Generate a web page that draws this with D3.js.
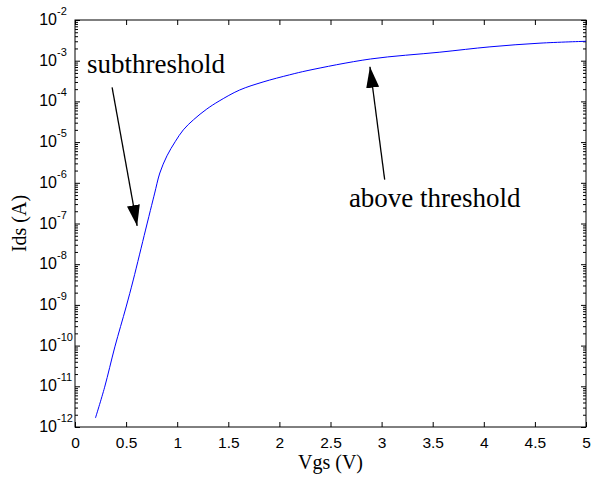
<!DOCTYPE html>
<html>
<head>
<meta charset="utf-8">
<script src="https://cdn.jsdelivr.net/npm/d3@7"></script>
<style>
  body { margin: 0; background: #fff; }
  .tick line { stroke: #000; }
  .tick text { font-family: "Liberation Sans", Arial, sans-serif; fill: #000; }
</style>
</head>
<body>
<svg id="viz-container" width="595" height="479"></svg>
<script>
// Vgs (V) and Ids (A)
var vgs = [0.2, 0.29, 0.39, 0.5, 0.57, 0.69, 0.75, 0.78, 0.83, 0.9, 0.98, 1.06, 1.16, 1.29, 1.41, 1.61, 1.84, 2.1, 2.28, 2.89, 3.57, 4.06, 4.55, 5.0];
var ids = [1.66e-12, 9.5e-12, 9.3e-11, 8.9e-10, 4.1e-9, 6.9e-8, 2.8e-7, 5.6e-7, 1.74e-6, 4.6e-6, 1.02e-5, 2.0e-5, 3.55e-5, 6.5e-5, 1.02e-4, 1.9e-4, 3.0e-4, 4.5e-4, 5.75e-4, 1.1e-3, 1.62e-3, 2.19e-3, 2.7e-3, 3.0e-3];

var xTicks = [0, 0.5, 1, 1.5, 2, 2.5, 3, 3.5, 4, 4.5, 5];
var yExponents = [-12, -11, -10, -9, -8, -7, -6, -5, -4, -3, -2];

// annotations: label, text anchor point, arrow tail, arrow tip (data coords)
var notes = [
  {label: "subthreshold",    tx: 0.117, ty: 5.0e-4, x1: 0.363, y1: 2.2e-4, x2: 0.608, y2: 8.7e-8},
  {label: "above threshold", tx: 2.68,  ty: 2.6e-7, x1: 3.03,  y1: 1.2e-6, x2: 2.886, y2: 7.1e-4}
];

var margin = {left: 75, right: 9, top: 20, bottom: 52}
  , width = 595
  , height = 479;

var svg = d3.select("#viz-container");

var x = d3.scaleLinear()
  .domain([0, 5])
  .range([margin.left, width - margin.right]);

var y = d3.scaleLog()
  .domain([1e-12, 1e-2])
  .range([height - margin.bottom, margin.top]);

// minor log ticks 2..9 in each decade
var minorTicks = [];
yExponents.slice(0, -1).forEach(function(e) {
  for (var k = 2; k <= 9; k++) minorTicks.push(k * Math.pow(10, e));
});
var majorTicks = yExponents.map(e => Math.pow(10, e));

// bottom axis
var xAxis = svg.append("g")
  .attr("transform", "translate(0," + y.range()[0] + ")")
  .call(d3.axisBottom(x).tickValues(xTicks).tickSize(-5).tickPadding(10)
    .tickFormat(d3.format("")));
xAxis.select(".domain").remove();
xAxis.selectAll(".tick text").style("font-size", "15.5px");

// top axis
svg.append("g")
  .attr("transform", "translate(0," + y.range()[1] + ")")
  .call(d3.axisTop(x).tickValues(xTicks).tickSize(-5).tickFormat(""))
  .select(".domain").remove();

// left / right axes, major and minor
[[d3.axisLeft, x.range()[0]], [d3.axisRight, x.range()[1]]].forEach(function(a) {
  var gMaj = svg.append("g")
    .attr("transform", "translate(" + a[1] + ",0)")
    .call(a[0](y).tickValues(majorTicks).tickSize(-5).tickFormat(""));
  gMaj.select(".domain").remove();
  var gMin = svg.append("g")
    .attr("transform", "translate(" + a[1] + ",0)")
    .call(a[0](y).tickValues(minorTicks).tickSize(-3).tickFormat(""));
  gMin.select(".domain").remove();
});

// y tick labels 10^n
var yLabels = svg.append("g")
  .attr("id", "ylabels")
  .style("font-family", "\"Liberation Sans\", Arial, sans-serif")
  .selectAll(".ylab")
  .data(yExponents)
 .enter().append("g")
  .attr("transform", d => "translate(57," + y(Math.pow(10, d)) + ")");
yLabels.append("text")
  .attr("text-anchor", "end")
  .attr("y", 5)
  .style("font-size", "16px")
  .text("10");
yLabels.append("text")
  .attr("x", 0)
  .attr("y", -5)
  .style("font-size", "11px")
  .text(d => d);

// frame
svg.append("rect")
  .attr("x", x.range()[0])
  .attr("y", y.range()[1])
  .attr("width", x.range()[1] - x.range()[0])
  .attr("height", y.range()[0] - y.range()[1])
  .attr("fill", "none")
  .attr("stroke", "#000")
  .attr("stroke-width", 1);

// curve
var line = d3.line()
  .x(d => x(d[0]))
  .y(d => y(d[1]))
  .curve(d3.curveCatmullRom.alpha(0.5));

svg.append("path")
  .datum(d3.zip(vgs, ids))
  .attr("d", line)
  .attr("fill", "none")
  .attr("stroke", "#0000ff")
  .attr("stroke-width", 1);

// arrows
svg.append("defs").append("marker")
  .attr("id", "head")
  .attr("viewBox", "0 0 21 13")
  .attr("refX", 21)
  .attr("refY", 6.5)
  .attr("markerWidth", 21)
  .attr("markerHeight", 13)
  .attr("markerUnits", "userSpaceOnUse")
  .attr("orient", "auto")
 .append("path")
  .attr("d", "M0,0 L21,6.5 L0,13 z")
  .attr("fill", "#000");

var ann = svg.append("g").attr("id", "annotations");
ann.selectAll(".arrow")
  .data(notes)
 .enter().append("line")
  .attr("x1", d => x(d.x1))
  .attr("y1", d => y(d.y1))
  .attr("x2", d => x(d.x2))
  .attr("y2", d => y(d.y2))
  .attr("stroke", "#000")
  .attr("stroke-width", 1.3)
  .attr("marker-end", "url(#head)");
ann.selectAll(".note")
  .data(notes)
 .enter().append("text")
  .attr("x", d => x(d.tx))
  .attr("y", d => y(d.ty))
  .style("font-family", "\"Liberation Serif\", \"Times New Roman\", serif")
  .style("font-size", "27px")
  .text(d => d.label);

// axis titles
svg.append("text")
  .attr("x", (x.range()[0] + x.range()[1]) / 2)
  .attr("y", 469)
  .attr("text-anchor", "middle")
  .style("font-family", "\"Liberation Serif\", \"Times New Roman\", serif")
  .style("font-size", "20px")
  .text("Vgs (V)");

svg.append("text")
  .attr("transform", "translate(26," + ((y.range()[0] + y.range()[1]) / 2) + ") rotate(-90)")
  .attr("text-anchor", "middle")
  .style("font-family", "\"Liberation Serif\", \"Times New Roman\", serif")
  .style("font-size", "20px")
  .text("Ids (A)");
</script>
</body>
</html>
